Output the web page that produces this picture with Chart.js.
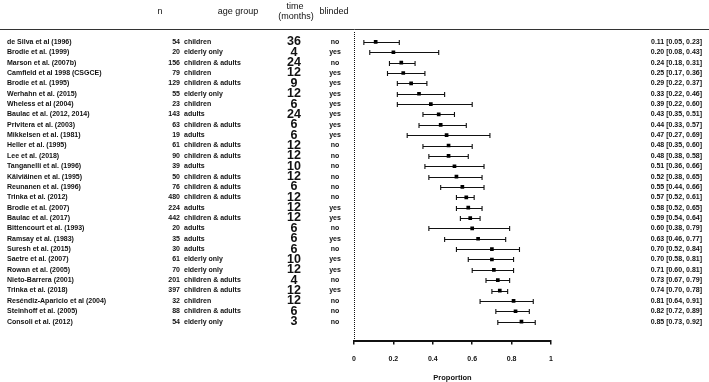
<!DOCTYPE html>
<html>
<head>
<meta charset="utf-8">
<script src="https://cdn.jsdelivr.net/npm/chart.js@4.4.1/dist/chart.umd.min.js"></script>
<style>
  html, body { margin: 0; padding: 0; background: #fff; }
  #wrap { width: 709px; height: 382px; position: relative; }
</style>
</head>
<body>
<div id="wrap"><canvas id="forest"></canvas></div>
<script>
// study data, top to bottom
const studies = ['de Silva et al (1996)', 'Brodie et al. (1999)', 'Marson et al. (2007b)', 'Camfield et al 1998 (CSGCE)',
  'Brodie et al. (1995)', 'Werhahn et al. (2015)', 'Wheless et al (2004)', 'Baulac et al. (2012, 2014)',
  'Privitera et al. (2003)', 'Mikkelsen et al. (1981)', 'Heller et al. (1995)', 'Lee et al. (2018)',
  'Tanganelli et al. (1996)', 'Kälviäinen et al. (1995)', 'Reunanen et al. (1996)', 'Trinka et al. (2012)',
  'Brodie et al. (2007)', 'Baulac et al. (2017)', 'Bittencourt et al. (1993)', 'Ramsay et al. (1983)',
  'Suresh et al. (2015)', 'Saetre et al. (2007)', 'Rowan et al. (2005)', 'Nieto-Barrera (2001)',
  'Trinka et al. (2018)', 'Reséndiz-Aparicio et al (2004)', 'Steinhoff et al. (2005)', 'Consoli et al. (2012)'];
const sampleN = [54, 20, 156, 79, 129, 55, 23, 143, 63, 19, 61, 90, 39, 50, 76, 480, 224, 442, 20, 35, 30, 61, 70, 201, 397, 32, 88, 54];
const ageGroup = ['children', 'elderly only', 'children & adults', 'children', 'children & adults', 'elderly only',
  'children', 'adults', 'children & adults', 'adults', 'children & adults', 'children & adults', 'adults',
  'children & adults', 'children & adults', 'children & adults', 'adults', 'children & adults', 'adults',
  'adults', 'adults', 'elderly only', 'elderly only', 'children & adults', 'children & adults', 'children',
  'children & adults', 'elderly only'];
const months = [36, 4, 24, 12, 9, 12, 6, 24, 6, 6, 12, 12, 10, 12, 6, 12, 12, 12, 6, 6, 6, 10, 12, 4, 12, 12, 6, 3];
const blinded = ['no', 'yes', 'no', 'yes', 'yes', 'yes', 'yes', 'yes', 'yes', 'yes', 'no', 'no', 'no', 'no', 'no', 'no',
  'yes', 'yes', 'no', 'yes', 'no', 'yes', 'yes', 'no', 'yes', 'no', 'no', 'no'];
const proportion = [0.11, 0.20, 0.24, 0.25, 0.29, 0.33, 0.39, 0.43, 0.44, 0.47, 0.48, 0.48, 0.51, 0.52, 0.55, 0.57,
  0.58, 0.59, 0.60, 0.63, 0.70, 0.70, 0.71, 0.73, 0.74, 0.81, 0.82, 0.85];
const ciLow = [0.05, 0.08, 0.18, 0.17, 0.22, 0.22, 0.22, 0.35, 0.33, 0.27, 0.35, 0.38, 0.36, 0.38, 0.44, 0.52,
  0.52, 0.54, 0.38, 0.46, 0.52, 0.58, 0.60, 0.67, 0.70, 0.64, 0.72, 0.73];
const ciHigh = [0.23, 0.43, 0.31, 0.36, 0.37, 0.46, 0.60, 0.51, 0.57, 0.69, 0.60, 0.58, 0.66, 0.65, 0.66, 0.61,
  0.65, 0.64, 0.79, 0.77, 0.84, 0.81, 0.81, 0.79, 0.78, 0.91, 0.89, 0.92];
const xTicks = [0, 0.2, 0.4, 0.6, 0.8, 1];

const narrow = '"Liberation Sans Narrow", "Arial Narrow", "Liberation Sans", Arial, sans-serif';
const regular = '"Liberation Sans", Arial, sans-serif';

// whiskers drawn under the squares
const errorBars = {
  id: 'errorBars',
  beforeDatasetsDraw(chart) {
    const { ctx, scales: { x, y } } = chart;
    ctx.save();
    ctx.strokeStyle = '#111';
    ctx.lineWidth = 1.1;
    studies.forEach((s, i) => {
      const py = Math.round(y.getPixelForValue(i)) + 0.5;
      const x1 = x.getPixelForValue(ciLow[i]);
      const x2 = x.getPixelForValue(ciHigh[i]);
      ctx.beginPath();
      ctx.moveTo(x1, py); ctx.lineTo(x2, py);
      ctx.moveTo(x1, py - 2.5); ctx.lineTo(x1, py + 2.5);
      ctx.moveTo(x2, py - 2.5); ctx.lineTo(x2, py + 2.5);
      ctx.stroke();
    });
    // dotted reference line at 0
    const x0 = Math.round(x.getPixelForValue(0)) + 0.5;
    ctx.lineWidth = 1;
    ctx.setLineDash([1, 1]);
    ctx.beginPath();
    ctx.moveTo(x0, chart.chartArea.top + 2);
    ctx.lineTo(x0, chart.chartArea.bottom);
    ctx.stroke();
    ctx.restore();
  }
};

// table columns and header
const tableText = {
  id: 'tableText',
  afterDraw(chart) {
    const { ctx, scales: { x, y } } = chart;
    ctx.save();
    ctx.fillStyle = '#111';
    ctx.textBaseline = 'middle';

    ctx.font = '9px ' + regular;
    ctx.textAlign = 'center';
    ctx.fillText('n', 160, 12);
    ctx.fillText('age group', 238, 12);
    ctx.fillText('time', 295, 7);
    ctx.fillText('(months)', 296, 17);
    ctx.fillText('blinded', 334, 12);

    ctx.strokeStyle = '#333';
    ctx.lineWidth = 1;
    ctx.beginPath();
    ctx.moveTo(0, 29.5); ctx.lineTo(709, 29.5);
    ctx.stroke();

    studies.forEach((s, i) => {
      const py = y.getPixelForValue(i);
      ctx.font = 'bold 7px ' + narrow;
      ctx.textAlign = 'left';
      ctx.fillText(s, 7, py);
      ctx.textAlign = 'right';
      ctx.fillText(String(sampleN[i]), 180, py);
      ctx.textAlign = 'left';
      ctx.fillText(ageGroup[i], 184, py);
      ctx.textAlign = 'center';
      ctx.fillText(blinded[i], 335, py);
      ctx.textAlign = 'right';
      ctx.fillText(proportion[i].toFixed(2) + ' [' + ciLow[i].toFixed(2) + ', ' + ciHigh[i].toFixed(2) + ']', 702, py);
      ctx.font = 'bold 12.5px ' + regular;
      ctx.textAlign = 'center';
      ctx.fillText(String(months[i]), 294, py);
    });
    ctx.restore();
  }
};

new Chart(document.getElementById('forest'), {
  type: 'scatter',
  data: {
    datasets: [{
      data: proportion.map((p, i) => ({ x: p, y: i })),
      pointStyle: 'rect',
      pointRadius: 2.6,
      backgroundColor: '#000',
      borderColor: '#000',
      borderWidth: 0
    }]
  },
  options: {
    responsive: true,
    maintainAspectRatio: false,
    animation: false,
    layout: { padding: { top: 30, left: 354, right: 158, bottom: 0 } },
    plugins: { legend: { display: false }, tooltip: { enabled: false } },
    scales: {
      x: {
        type: 'linear',
        min: 0,
        max: 1,
        afterBuildTicks: (axis) => { axis.ticks = xTicks.map(v => ({ value: v })); },
        border: { display: true, color: '#111', width: 2 },
        grid: { drawOnChartArea: false, color: '#111', lineWidth: 1.5, tickLength: 4 },
        ticks: { color: '#111', padding: 10, font: { family: narrow, size: 7, weight: 'bold' },
          maxRotation: 0, callback: (v) => String(v) },
        title: { display: true, text: 'Proportion', color: '#111', padding: { top: 0, bottom: 0 },
          font: { family: narrow, size: 7.5, weight: 'bold' } }
      },
      y: {
        type: 'linear',
        display: false,
        reverse: true,
        min: -1.15,
        max: 28.83
      }
    }
  },
  plugins: [errorBars, tableText]
});
</script>
</body>
</html>
